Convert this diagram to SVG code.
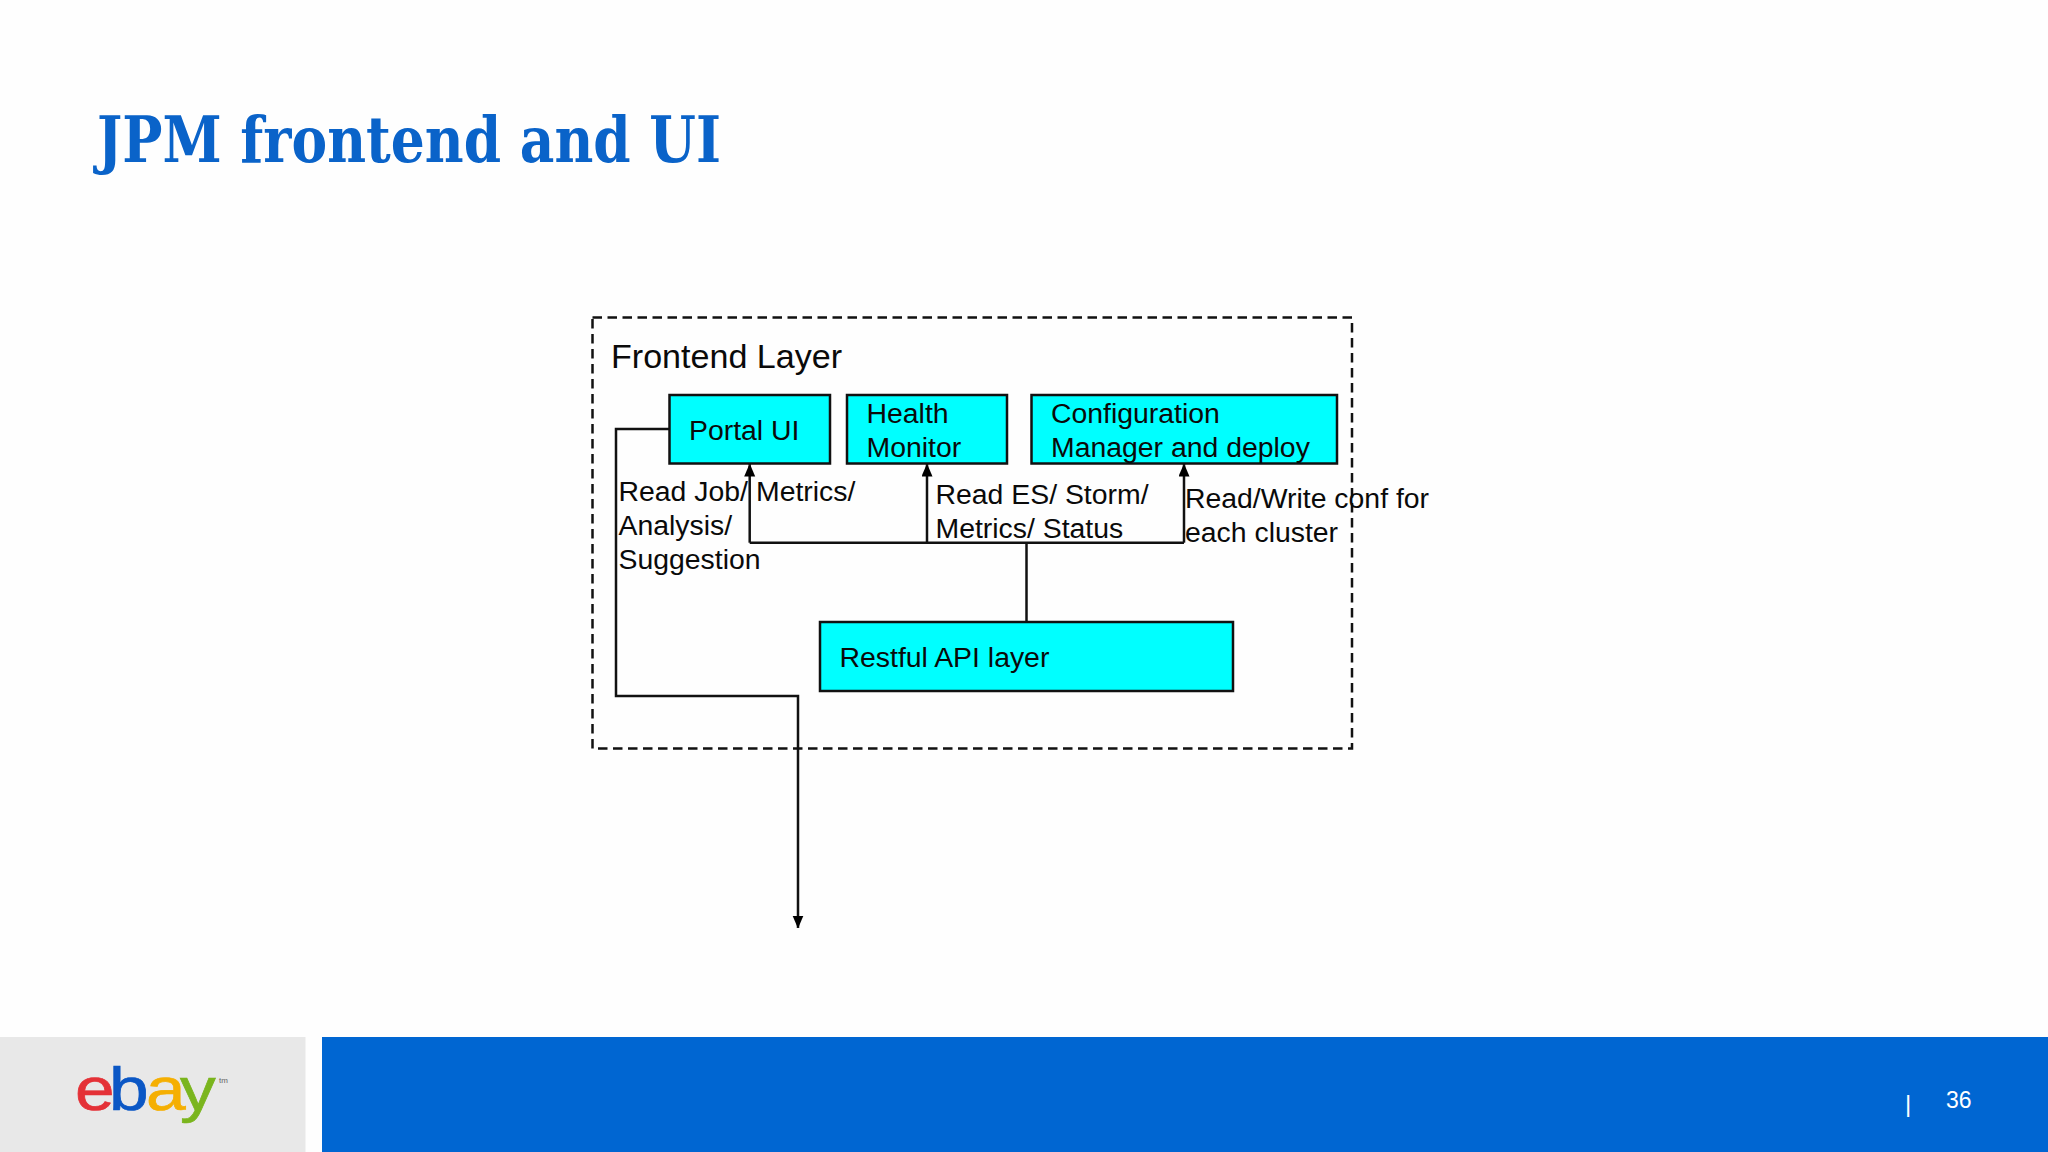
<svg xmlns="http://www.w3.org/2000/svg" width="2048" height="1152" viewBox="0 0 2048 1152">
<style>
.t{font-family:"Liberation Sans",Arial,sans-serif;font-size:28.4px;fill:#0a0a0a}
.n{fill:#00ffff;stroke:#111;stroke-width:2.5}
.c{fill:none;stroke:#111;stroke-width:2.5}
</style>
<defs><marker id="a" markerUnits="userSpaceOnUse" markerWidth="11" markerHeight="14" refX="12.5" refY="5.5" orient="auto"><path d="M0 0L13 5.5L0 11z" fill="#000"/></marker></defs>
<rect width="2048" height="1152" fill="#fefefe"/>
<text x="97" y="162" font-family="'DejaVu Serif',serif" font-weight="700" font-size="63" fill="#0a63c9" textLength="624" lengthAdjust="spacingAndGlyphs">JPM frontend and UI</text>
<rect id="frontend-layer" x="592.5" y="317.5" width="759.5" height="431" fill="none" stroke="#111" stroke-width="2.5" stroke-dasharray="9.5 5.5"/>
<text class="t" x="611" y="367.5" style="font-size:34.1px">Frontend Layer</text>
<g id="connectors">
<path class="c" d="M669.5 429H616V696H798V928" marker-end="url(#a)"/>
<path class="c" d="M1026.5 622V542.7"/>
<path class="c" d="M749.7 542.7V464" marker-end="url(#a)"/>
<path class="c" d="M927 542.7V464" marker-end="url(#a)"/>
<path class="c" d="M1184 542.7V464" marker-end="url(#a)"/>
<path class="c" d="M749.7 542.7H1184"/>
</g>
<g id="portal-ui"><rect class="n" x="669.5" y="395" width="160.5" height="68.5"/><text class="t" x="689" y="440">Portal UI</text></g>
<g id="health-monitor"><rect class="n" x="847" y="395" width="160" height="68.5"/><text class="t" x="866.5" y="422.5">Health</text><text class="t" x="866.5" y="456.5">Monitor</text></g>
<g id="config-manager"><rect class="n" x="1031.5" y="395" width="305.5" height="68.5"/><text class="t" x="1051" y="422.5">Configuration</text><text class="t" x="1051" y="456.5">Manager and deploy</text></g>
<g id="restful-api"><rect class="n" x="820" y="622" width="413" height="69"/><text class="t" x="839.5" y="667">Restful API layer</text></g>
<text class="t" x="618.5" y="501">Read Job/</text><text class="t" x="756" y="501">Metrics/</text>
<text class="t" x="618.5" y="535">Analysis/</text><text class="t" x="618.5" y="569">Suggestion</text>
<text class="t" x="935.5" y="504">Read ES/ Storm/</text><text class="t" x="935.5" y="538">Metrics/ Status</text>
<text class="t" x="1185" y="508">Read/Write conf for</text><text class="t" x="1185" y="542">each cluster</text>
<rect y="1037" width="305.5" height="115" fill="#e8e8e8"/>
<rect x="322" y="1037" width="1726" height="115" fill="#0066d2"/>
<g id="ebay-logo" font-family="'Liberation Sans',Arial,sans-serif">
<text transform="translate(0 1109.5) scale(1.15 1)" font-size="62" stroke-width="0.7" x="65.2 94.8 127 156.5" y="0"><tspan fill="#e43137" stroke="#e43137">e</tspan><tspan fill="#0b57c5" stroke="#0b57c5">b</tspan><tspan fill="#f5af02" stroke="#f5af02">a</tspan><tspan fill="#7ab51d" stroke="#7ab51d">y</tspan></text>
<text x="219" y="1083" font-size="8" fill="#666">tm</text></g>
<text x="1905" y="1112" font-family="'Liberation Sans',Arial,sans-serif" font-size="24" fill="#fff">|</text>
<text x="1946" y="1108" font-family="'Liberation Sans',Arial,sans-serif" font-size="23" fill="#fff">36</text>
</svg>
